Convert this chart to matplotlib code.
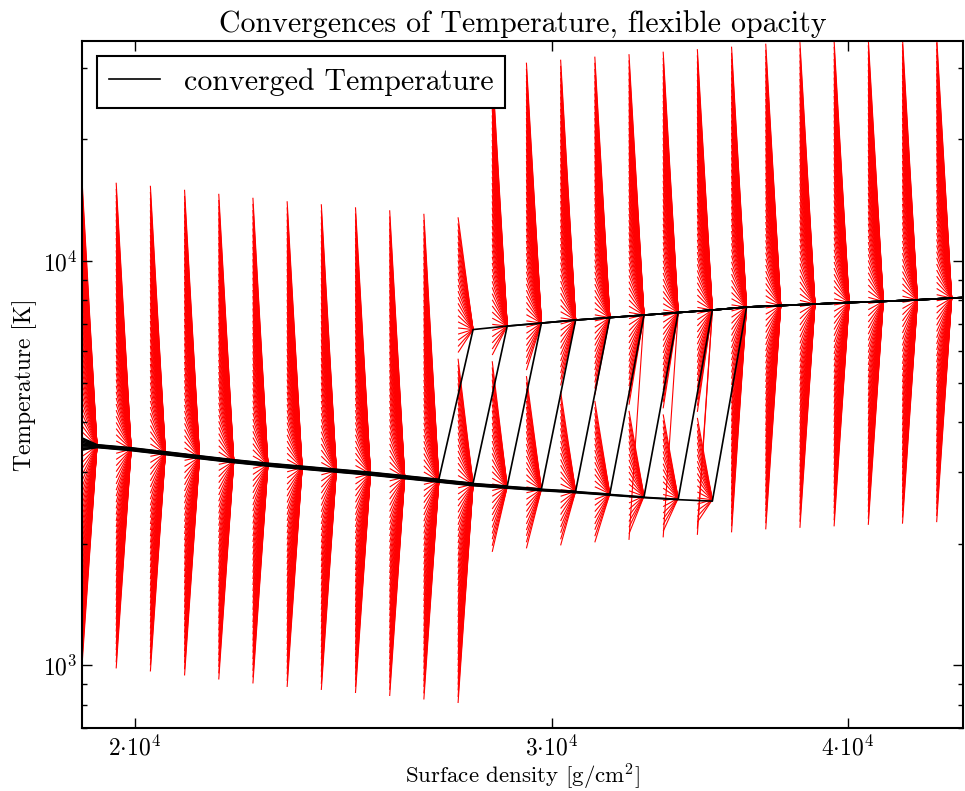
import numpy as np
import matplotlib
matplotlib.use('Agg')
import matplotlib.pyplot as plt
from matplotlib.collections import LineCollection
from matplotlib.ticker import FixedLocator, FixedFormatter, NullFormatter, NullLocator, LogLocator

plt.rcParams['font.family'] = 'serif'
plt.rcParams['font.serif'] = ['cmr10']
plt.rcParams['mathtext.fontset'] = 'cm'
plt.rcParams['axes.formatter.use_mathtext'] = True

nan = np.nan

# surface density of each column (start of the iteration arrows)
sigma = [18379, 19000, 19642, 20306, 20992, 21702, 22435, 23194, 23978, 24788,
         25626, 26492, 27388, 28313, 29270, 30260, 31283, 32340, 33433, 34563,
         35731, 36939, 38188, 39478, 40813, 42192, 43618, 45092]

# converged temperature, cold (lower) and hot (upper) branch
T_lower = [3544, 3485, 3425, 3348, 3272, 3199, 3136, 3083, 3030, 2979,
           2920, 2862, 2805, 2765, 2726, 2695, 2657, 2620, 2590, 2568,
           nan, nan, nan, nan, nan, nan, nan, nan]
T_upper = [nan, nan, nan, nan, nan, nan, nan, nan, nan, nan,
           nan, nan, 6768, 6904, 7022, 7145, 7246, 7350, 7456, 7563,
           7693, 7760, 7826, 7893, 7946, 8015, 8097, 8166]
# above this start temperature the iteration ends on the hot branch
T_split = [nan, nan, nan, nan, nan, nan, nan, nan, nan, nan,
           nan, nan, 5754, 5754, 5283, 4877, 4554, 4377, 4303, 4182,
           nan, nan, nan, nan, nan, nan, nan, nan]
# coldest start guesses that still jump to the hot branch
n_odd = [0, 0, 0, 0, 0, 0, 0, 0, 0, 0,
         0, 0, 0, 0, 0, 0, 0, 1, 1, 2,
         0, 0, 0, 0, 0, 0, 0, 0]

# start guesses relative to the previous converged temperature
guess_factor = [0.282, 0.292, 0.303, 0.313, 0.324, 0.336, 0.348, 0.360, 0.373, 0.387,
                0.400, 0.415, 0.429, 0.445, 0.460, 0.477, 0.494, 0.511, 0.530, 0.549,
                0.568, 0.588, 0.609, 0.631, 0.653, 0.677, 0.701, 0.726, 0.752, 0.778,
                0.806, 0.835, 0.865, 0.895, 0.927, 0.960, 0.995, 1.030, 1.067, 1.105,
                1.144, 1.185, 1.227, 1.271, 1.316, 1.363, 1.411, 1.462, 1.514, 1.568,
                1.624, 1.681, 1.741, 1.803, 1.868, 1.934, 2.003, 2.075, 2.148, 2.225,
                2.304, 2.386, 2.471, 2.559, 2.651, 2.745, 2.843, 2.944, 3.049, 3.158,
                3.270, 3.387, 3.507, 3.632, 3.762, 3.896, 4.035, 4.178, 4.327, 4.481]

# converged temperature runs: column where each run jumps to the hot branch
jump_at = [12, 13, 14, 15, 16, 17, 18, 19, 20]
run_start_T = [3839, 3773, 3709, 3647, 3585, 3524, 3464, 3406, 3348]
run_lower_scale = [1.008, 1.006, 1.004, 1.002, 1.0, 0.998, 0.996, 0.994, 0.992]

xticks = [2e4, 3e4, 4e4]
xtick_labels = [r'$2{\cdot}10^{4}$', r'$3{\cdot}10^{4}$', r'$4{\cdot}10^{4}$']
yticks = [1e3, 1e4]
ytick_labels = [r'$10^{3}$', r'$10^{4}$']

head_shift = 1.0147

fig = plt.figure(figsize=(9.65, 7.91), dpi=100)
ax = fig.add_axes([82 / 965, 1 - 728 / 791, 881 / 965, 687 / 791])
ax.set_xscale('log')
ax.set_yscale('log')

# red arrows: start guess -> converged temperature
segs = []
for i in range(1, len(sigma)):
    ref = T_upper[i - 1] if not np.isnan(T_upper[i - 1]) else T_lower[i - 1]
    x0 = sigma[i]
    x1 = sigma[i] * head_shift
    for n, f in enumerate(guess_factor):
        t0 = ref * f
        if np.isnan(T_lower[i]):
            t1 = T_upper[i]
        elif np.isnan(T_upper[i]):
            t1 = T_lower[i]
        elif t0 > T_split[i] or n < n_odd[i]:
            t1 = T_upper[i]
        else:
            t1 = T_lower[i]
        segs.append([(x0, t0), (x1, t1)])
lc = LineCollection(segs, colors='red', linewidths=0.8, zorder=1)
ax.add_collection(lc)

# black converged lines
sig_head = np.array(sigma) * head_shift
for r, j in enumerate(jump_at):
    T_run = [t * run_lower_scale[r] for t in T_lower[:j]] + list(T_upper[j:])
    T_run[0] = run_start_T[r]
    ax.plot(sig_head, T_run, color='black', lw=1.2, zorder=2,
            label='converged Temperature' if r == 0 else None)

ax.set_xlim(19000, 44750)
ax.set_ylim(700, 35000)

ax.xaxis.set_major_locator(FixedLocator(xticks))
ax.xaxis.set_major_formatter(FixedFormatter(xtick_labels))
ax.xaxis.set_minor_locator(NullLocator())
ax.yaxis.set_major_locator(FixedLocator(yticks))
ax.yaxis.set_major_formatter(FixedFormatter(ytick_labels))
ax.yaxis.set_minor_locator(LogLocator(base=10, subs=range(2, 10)))
ax.yaxis.set_minor_formatter(NullFormatter())

ax.tick_params(which='both', direction='in', top=True, right=True, labelsize=17)
ax.tick_params(which='major', length=7, width=1)
ax.tick_params(which='minor', length=3.5, width=1)
ax.tick_params(axis='x', pad=5)
for s in ax.spines.values():
    s.set_linewidth(1.5)

ax.set_title('Convergences of Temperature, flexible opacity', fontsize=21.5)
ax.set_xlabel(r'Surface density [g/cm$^2$]', fontsize=16.5, labelpad=1)
ax.set_ylabel('Temperature [K]', fontsize=17)

leg = ax.legend(loc='upper left', fontsize=21.5, fancybox=False, framealpha=1,
                edgecolor='black', handlelength=1.7, borderaxespad=0.5)
leg.get_frame().set_linewidth(1.5)
leg.set_zorder(5)

fig.savefig('out.png', dpi=100)
